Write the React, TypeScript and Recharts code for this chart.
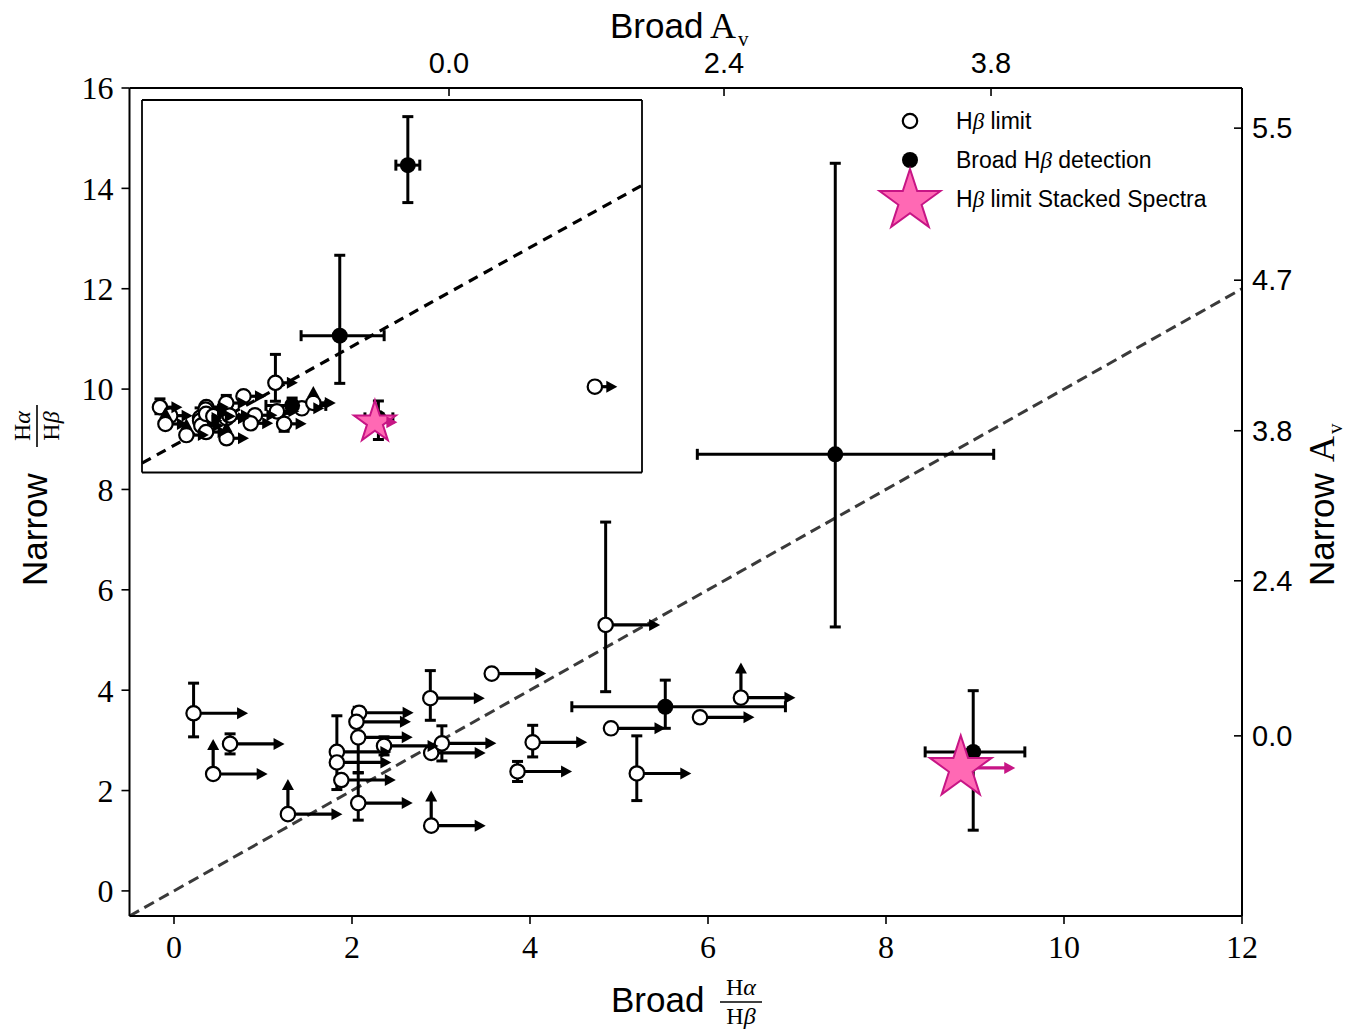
import { ScatterChart, Scatter, XAxis, YAxis, ErrorBar, ReferenceLine } from 'recharts'

const SERIF = '"Liberation Serif", "DejaVu Serif", serif'
const SANS = '"Liberation Sans", "DejaVu Sans", sans-serif'
const PINK = '#ff69b4'
const PINK_EDGE = '#c71585'

// H-beta limit objects (open circles, all lower limits in broad ratio)
const limitX = [0.22, 0.63, 0.44, 1.28, 1.83, 1.83, 1.88, 2.07, 2.08, 2.05, 2.07, 2.36, 2.88, 2.89, 3.01, 2.89, 3.57, 4.85, 4.03, 3.86, 4.91, 5.2, 5.91, 6.37]
const limitY = [3.54, 2.93, 2.33, 1.53, 2.77, 2.56, 2.21, 1.75, 3.55, 3.37, 3.06, 2.89, 3.84, 2.75, 2.94, 1.3, 4.33, 5.3, 2.96, 2.38, 3.24, 2.34, 3.46, 3.85]
const limitYErrLo = [0.47, 0.2, 0, 0, 0.75, 0, 0, 0.34, 0.1, 0, 0.7, 0.18, 0.44, 0, 0.35, 0, 0, 1.33, 0.29, 0.2, 0, 0.54, 0, 0]
const limitYErrHi = [0.6, 0.2, 0, 0, 0.72, 0, 0, 0.6, 0.1, 0, 0.6, 0.18, 0.55, 0, 0.35, 0, 0, 2.05, 0.34, 0.2, 0, 0.75, 0, 0]
const limitUp = [false, false, true, true, false, false, false, false, false, false, false, false, false, false, false, true, false, false, false, false, false, false, false, true]

// only visible in the inset (outside the main axes)
const extraLimitX = [17.66]
const extraLimitY = [5.02]

// broad H-beta detections
const detX = [5.52, 7.43, 8.98]
const detY = [3.67, 8.7, 2.77]
const detXErrLo = [1.05, 1.55, 0.54]
const detXErrHi = [1.35, 1.78, 0.58]
const detYErrLo = [0.43, 3.44, 1.56]
const detYErrHi = [0.53, 5.8, 1.22]

const extraDetX = [10.16]
const extraDetY = [21.0]
const extraDetXErr = [0.48]
const extraDetYErrLo = [2.7]
const extraDetYErrHi = [3.5]

// stacked spectra limit
const stackX = [8.84]
const stackY = [2.45]

const ARROW_LEN = 0.5

const mainXTicks = [0, 2, 4, 6, 8, 10, 12]
const mainYTicks = [0, 2, 4, 6, 8, 10, 12, 14, 16]
const broadAvTicks = [3.09, 6.18, 9.18]
const broadAvLabels = ['0.0', '2.4', '3.8']
const narrowAvTicks = [3.09, 6.18, 9.17, 12.17, 15.2]
const narrowAvLabels = ['0.0', '2.4', '3.8', '4.7', '5.5']
const insetXTicks = [0, 5, 10, 15]
const insetYTicks = [0, 5, 10, 15, 20, 25]

type Row = { x: number; y: number; xErr?: number[]; yErr?: number[]; right?: number[]; up?: number[] }

const mkLimits = (xs: number[], ys: number[], lo: number[], hi: number[], up: boolean[]): Row[] =>
  xs.map((x, i) => ({
    x,
    y: ys[i],
    yErr: lo[i] || hi[i] ? [lo[i], hi[i]] : undefined,
    right: [0, ARROW_LEN],
    up: up[i] ? [0, ARROW_LEN] : undefined,
  }))

const limitRows = mkLimits(limitX, limitY, limitYErrLo, limitYErrHi, limitUp)
const allLimitRows = limitRows.concat(
  mkLimits(extraLimitX, extraLimitY, [0], [0], [false]),
)

const detRows: Row[] = detX.map((x, i) => ({
  x,
  y: detY[i],
  xErr: [detXErrLo[i], detXErrHi[i]],
  yErr: [detYErrLo[i], detYErrHi[i]],
}))
const allDetRows = detRows.concat(
  extraDetX.map((x, i) => ({
    x,
    y: extraDetY[i],
    xErr: [extraDetXErr[i], extraDetXErr[i]],
    yErr: [extraDetYErrLo[i], extraDetYErrHi[i]],
  })),
)

const stackRows: Row[] = stackX.map((x, i) => ({ x, y: stackY[i], right: [0, ARROW_LEN] }))

const rightTips = (rows: Row[]) => rows.filter((r) => r.right).map((r) => ({ x: r.x + ARROW_LEN, y: r.y }))
const upTips = (rows: Row[]) => rows.filter((r) => r.up).map((r) => ({ x: r.x, y: r.y + ARROW_LEN }))

function starPath(cx: number, cy: number, R: number) {
  const r = R * 0.382
  let d = ''
  for (let k = 0; k < 10; k++) {
    const a = -Math.PI / 2 + (k * Math.PI) / 5
    const rr = k % 2 === 0 ? R : r
    d += `${k === 0 ? 'M' : 'L'}${(cx + rr * Math.cos(a)).toFixed(2)},${(cy + rr * Math.sin(a)).toFixed(2)}`
  }
  return d + 'Z'
}

const OpenDot = (p: any) =>
  p.cx == null ? <g /> : <circle cx={p.cx} cy={p.cy} r={7.2} fill="#fff" stroke="#000" strokeWidth={2.2} />
const FilledDot = (p: any) =>
  p.cx == null ? <g /> : <circle cx={p.cx} cy={p.cy} r={8} fill="#000" />
const rightHead = (color: string) => (p: any) =>
  p.cx == null ? <g /> : <path d={`M${p.cx - 1},${p.cy - 6}L${p.cx + 10},${p.cy}L${p.cx - 1},${p.cy + 6}Z`} fill={color} />
const UpHead = (p: any) =>
  p.cx == null ? <g /> : <path d={`M${p.cx - 6},${p.cy + 1}L${p.cx},${p.cy - 10}L${p.cx + 6},${p.cy + 1}Z`} fill="#000" />
const starShape = (R: number) => (p: any) =>
  p.cx == null ? <g /> : <path d={starPath(p.cx, p.cy, R)} fill={PINK} stroke={PINK_EDGE} strokeWidth={2} />

function renderSeries(limits: Row[], dets: Row[], starR: number) {
  const ax = { xAxisId: 'b', yAxisId: 'l', isAnimationActive: false }
  return [
    <Scatter key="lim" {...ax} data={limits} shape={OpenDot}>
      <ErrorBar dataKey="right" direction="x" width={0} stroke="#000" strokeWidth={3.2} />
      <ErrorBar dataKey="up" direction="y" width={0} stroke="#000" strokeWidth={3.2} />
      <ErrorBar dataKey="yErr" direction="y" width={5.5} stroke="#000" strokeWidth={3} />
    </Scatter>,
    <Scatter key="limR" {...ax} data={rightTips(limits)} shape={rightHead('#000')} />,
    <Scatter key="limU" {...ax} data={upTips(limits)} shape={UpHead} />,
    <Scatter key="det" {...ax} data={dets} shape={FilledDot}>
      <ErrorBar dataKey="xErr" direction="x" width={5.5} stroke="#000" strokeWidth={3} />
      <ErrorBar dataKey="yErr" direction="y" width={5.5} stroke="#000" strokeWidth={3} />
    </Scatter>,
    <Scatter key="stack" {...ax} data={stackRows} shape={starShape(starR)}>
      <ErrorBar dataKey="right" direction="x" width={0} stroke={PINK_EDGE} strokeWidth={3.2} />
    </Scatter>,
    <Scatter key="stackR" {...ax} data={rightTips(stackRows)} shape={rightHead(PINK_EDGE)} />,
  ]
}

const serifTick = { fontFamily: SERIF, fontSize: 32, fill: '#000' }
const sansTick = { fontFamily: SANS, fontSize: 29, fill: '#000' }

function Frac({ x, y, size }: { x: number; y: number; size: number }) {
  // x: centre of the fraction, y: position of the fraction bar
  return (
    <g fontFamily={SERIF} fontSize={size} textAnchor="middle" fill="#000">
      <text x={x} y={y - 7}>
        H<tspan fontStyle="italic">α</tspan>
      </text>
      <line x1={x - 21} x2={x + 21} y1={y} y2={y} stroke="#000" strokeWidth={1.6} />
      <text x={x} y={y + 22}>
        H<tspan fontStyle="italic">β</tspan>
      </text>
    </g>
  )
}

function Overlay() {
  return (
    <svg width={1364} height={1030} style={{ position: 'absolute', left: 0, top: 0, pointerEvents: 'none' }}>
      {/* bottom label */}
      <text x={611} y={1012} fontFamily={SANS} fontSize={35}>Broad</text>
      <Frac x={741} y={1002} size={24} />
      {/* top label */}
      <text x={610} y={38} fontFamily={SANS} fontSize={35}>Broad</text>
      <text x={710} y={38} fontFamily={SERIF} fontSize={36}>A</text>
      <text x={738} y={46} fontFamily={SERIF} fontSize={21}>v</text>
      {/* left label */}
      <g transform="translate(47,586) rotate(-90)">
        <text x={0} y={0} fontFamily={SANS} fontSize={35}>Narrow</text>
        <Frac x={160} y={-10} size={24} />
      </g>
      {/* right label */}
      <g transform="translate(1334,586) rotate(-90)">
        <text x={0} y={0} fontFamily={SANS} fontSize={35}>Narrow</text>
        <text x={124} y={0} fontFamily={SERIF} fontSize={36}>A</text>
        <text x={152} y={8} fontFamily={SERIF} fontSize={21}>v</text>
      </g>
      {/* legend */}
      <circle cx={910} cy={121} r={7.2} fill="#fff" stroke="#000" strokeWidth={2.2} />
      <circle cx={910} cy={160} r={8} fill="#000" />
      <path d={starPath(910, 201, 32)} fill={PINK} stroke={PINK_EDGE} strokeWidth={2} />
      <g fontFamily={SANS} fontSize={23} fill="#000">
        <text x={956} y={129}>
          H<tspan fontFamily={SERIF} fontStyle="italic">β</tspan> limit
        </text>
        <text x={956} y={168}>
          Broad H<tspan fontFamily={SERIF} fontStyle="italic">β</tspan> detection
        </text>
        <text x={956} y={207}>
          H<tspan fontFamily={SERIF} fontStyle="italic">β</tspan> limit Stacked Spectra
        </text>
      </g>
    </svg>
  )
}

export default function App() {
  return (
    <div style={{ position: 'relative', width: 1364, height: 1030, background: '#fff' }}>
      <style>{'body{margin:0}'}</style>
      <ScatterChart width={1364} height={1030} margin={{ top: 48, right: 42, bottom: 74, left: 49.5 }}>
        <XAxis
          xAxisId="b"
          type="number"
          dataKey="x"
          domain={[-0.5, 12]}
          ticks={mainXTicks}
          allowDataOverflow
          height={40}
          stroke="#000"
          axisLine={{ strokeWidth: 2 }}
          tickLine={{ strokeWidth: 1.6 }}
          tickSize={8}
          tickMargin={11}
          tick={serifTick}
        />
        <XAxis
          xAxisId="t"
          orientation="top"
          type="number"
          dataKey="x"
          domain={[-0.5, 12]}
          ticks={broadAvTicks}
          tickFormatter={(v) => broadAvLabels[broadAvTicks.indexOf(v)] ?? ''}
          allowDataOverflow
          height={40}
          stroke="#000"
          axisLine={{ strokeWidth: 2 }}
          tickLine={{ strokeWidth: 1.6 }}
          tickSize={-8}
          tickMargin={23}
          tick={sansTick}
        />
        <YAxis
          yAxisId="l"
          type="number"
          dataKey="y"
          domain={[-0.5, 16]}
          ticks={mainYTicks}
          allowDataOverflow
          width={80}
          stroke="#000"
          axisLine={{ strokeWidth: 2 }}
          tickLine={{ strokeWidth: 1.6 }}
          tickSize={8}
          tickMargin={8}
          tick={serifTick}
        />
        <YAxis
          yAxisId="r"
          orientation="right"
          type="number"
          dataKey="y"
          domain={[-0.5, 16]}
          ticks={narrowAvTicks}
          tickFormatter={(v) => narrowAvLabels[narrowAvTicks.indexOf(v)] ?? ''}
          allowDataOverflow
          width={80}
          stroke="#000"
          axisLine={{ strokeWidth: 2 }}
          tickLine={{ strokeWidth: 1.6 }}
          tickSize={-8}
          tickMargin={18}
          tick={sansTick}
        />
        <ReferenceLine
          xAxisId="b"
          yAxisId="l"
          segment={[{ x: -0.5, y: -0.5 }, { x: 12, y: 12 }]}
          stroke="#3a3a3a"
          strokeWidth={3}
          strokeDasharray="11 6"
        />
        {renderSeries(limitRows, detRows, 32.5)}
      </ScatterChart>

      <div style={{ position: 'absolute', left: 139.5, top: 98, width: 504, height: 376.5, background: '#fff' }}>
        <ScatterChart width={504} height={376.5} margin={{ top: 2, right: 2, bottom: 2, left: 2 }}>
          <XAxis xAxisId="b" type="number" dataKey="x" domain={[-0.5, 19.55]} ticks={insetXTicks} allowDataOverflow mirror height={10} stroke="#000" axisLine={{ strokeWidth: 1.8 }} tickLine={{ strokeWidth: 1.4 }} tickSize={7} tick={false} />
          <XAxis xAxisId="t" orientation="top" type="number" dataKey="x" domain={[-0.5, 19.55]} ticks={insetXTicks} allowDataOverflow mirror height={10} stroke="#000" axisLine={{ strokeWidth: 1.8 }} tickLine={false} tick={false} />
          <YAxis yAxisId="l" type="number" dataKey="y" domain={[-1.17, 25.7]} ticks={insetYTicks} allowDataOverflow mirror width={10} stroke="#000" axisLine={{ strokeWidth: 1.8 }} tickLine={{ strokeWidth: 1.4 }} tickSize={7} tick={false} />
          <YAxis yAxisId="r" orientation="right" type="number" dataKey="y" domain={[-1.17, 25.7]} ticks={insetYTicks} allowDataOverflow mirror width={10} stroke="#000" axisLine={{ strokeWidth: 1.8 }} tickLine={false} tick={false} />
          <ReferenceLine
            xAxisId="b"
            yAxisId="l"
            segment={[{ x: -0.5, y: -0.5 }, { x: 19.55, y: 19.55 }]}
            stroke="#000"
            strokeWidth={3.2}
            strokeDasharray="10 7"
          />
          {renderSeries(allLimitRows, allDetRows, 22)}
        </ScatterChart>
      </div>

      <Overlay />
    </div>
  )
}
